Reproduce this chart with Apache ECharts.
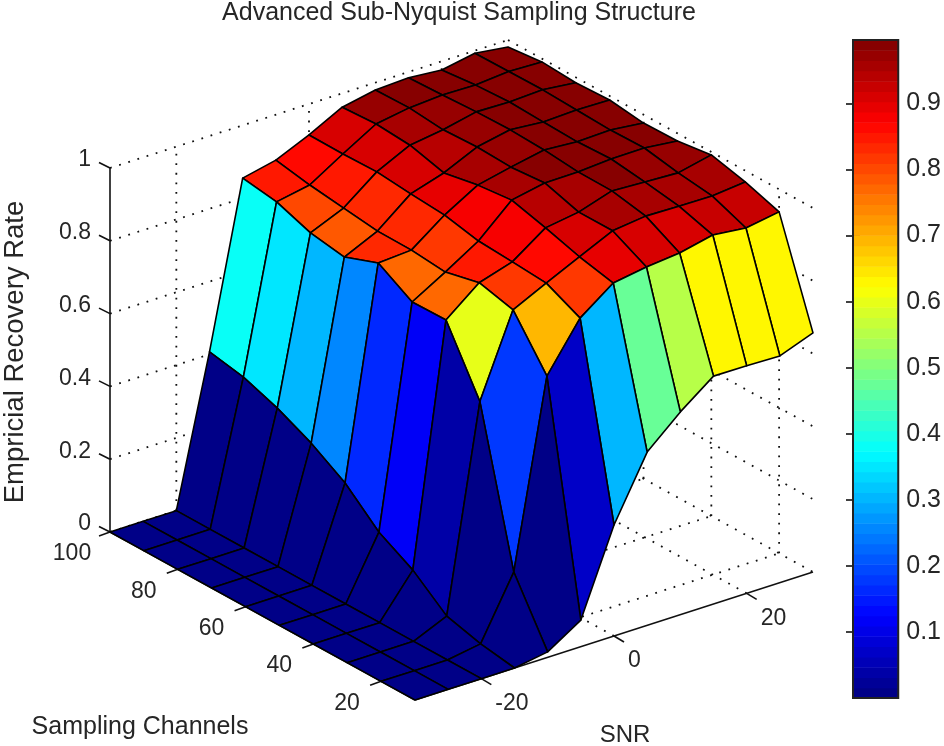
<!DOCTYPE html>
<html>
<head>
<meta charset="utf-8">
<title>Advanced Sub-Nyquist Sampling Structure</title>
<script src="https://cdn.jsdelivr.net/npm/echarts@6/dist/echarts.min.js"></script>
<style>
html, body { margin: 0; padding: 0; background: #fff; }
#chart { width: 944px; height: 746px; }
</style>
</head>
<body>
<div id="chart"></div>
<script>
// values
var snrValues = [-30, -25, -20, -15, -10, -5, 0, 5, 10, 15, 20, 25, 30];
var channelValues = [10, 20, 30, 40, 50, 60, 70, 80, 90, 100];

// one list per SNR, in channelValues order
var rateSnrM30 = [0, 0, 0, 0, 0, 0, 0, 0, 0, 0];
var rateSnrM25 = [0, 0, 0, 0, 0, 0, 0, 0, 0, 0];
var rateSnrM20 = [0, 0, 0, 0, 0, 0, 0, 0, 0, 0];
var rateSnrM15 = [0, 0.015, 0.04, 0.115, 0.168, 0.252, 0.31, 0.355, 0.389, 0.407];
var rateSnrM10 = [0.015, 0.183, 0.6, 0.773, 0.771, 0.827, 0.792, 0.807, 0.841, 0.855];
var rateSnrM5 = [0.073, 0.692, 0.823, 0.846, 0.824, 0.833, 0.834, 0.846, 0.858, 0.875];
var rateSnr0 = [0.305, 0.822, 0.867, 0.874, 0.88, 0.9, 0.907, 0.916, 0.914, 0.915];
var rateSnr5 = [0.476, 0.889, 0.91, 0.938, 0.963, 0.953, 0.935, 0.96, 0.967, 0.962];
var rateSnr10 = [0.557, 0.904, 0.952, 0.952, 0.981, 0.973, 0.977, 0.973, 0.982, 0.98];
var rateSnr15 = [0.626, 0.913, 0.963, 0.981, 0.982, 0.991, 0.995, 0.993, 0.988, 0.984];
var rateSnr20 = [0.625, 0.933, 0.961, 0.976, 0.988, 0.984, 0.987, 0.991, 0.986, 0.976];
var rateSnr25 = [0.623, 0.923, 0.96, 0.972, 0.989, 0.987, 0.991, 0.995, 0.994, 0.993];
var rateSnr30 = [0.657, 0.938, 0.969, 0.992, 0.979, 0.977, 0.989, 0.985, 0.991, 0.981];
var rates = [rateSnrM30, rateSnrM25, rateSnrM20, rateSnrM15, rateSnrM10, rateSnrM5, rateSnr0,
	rateSnr5, rateSnr10, rateSnr15, rateSnr20, rateSnr25, rateSnr30];

var snrTicks = [-20, 0, 20];
var channelTicks = [20, 40, 60, 80, 100];
var rateTicks = [0, 0.2, 0.4, 0.6, 0.8, 1];
var colorbarTicks = [0.1, 0.2, 0.3, 0.4, 0.5, 0.6, 0.7, 0.8, 0.9];

var titleText = 'Advanced Sub-Nyquist Sampling Structure';
var rateName = 'Empricial Recovery Rate';
var channelName = 'Sampling Channels';
var snrName = 'SNR';

var colorMax = 0.996;
var colorLevels = 64;
var textColor = '#262626';
var tickFont = '23px "Liberation Sans"';

// matlab jet map
function jet(i) {
	var t = (i + 0.5) / colorLevels;
	function ch(v) {
		return Math.round(255 * Math.max(0, Math.min(1, v)));
	}
	return 'rgb(' + ch(1.5 - Math.abs(4 * t - 3)) + ',' + ch(1.5 - Math.abs(4 * t - 2)) + ',' + ch(1.5 - Math.abs(4 * t - 1)) + ')';
}
function colorOf(v) {
	return jet(Math.min(colorLevels - 1, Math.floor(v / colorMax * colorLevels)));
}

// fixed view of the 3d box: (snr, channels, rate) -> flat chart units
function project(s, c, r) {
	return [
		415 + (s + 30) * 398 / 60 - (c - 10) * 305 / 90,
		700 - (s + 30) * 128 / 60 - (c - 10) * 168 / 90 - r * 364
	];
}

function segment(api, a, b, style) {
	var p = api.coord(a), q = api.coord(b);
	return { type: 'line', shape: { x1: p[0], y1: p[1], x2: q[0], y2: q[1] }, style: style };
}

// back to front so nearer cells cover farther ones
var cells = [];
for (var si = snrValues.length - 2; si >= 0; si--) {
	for (var ci = channelValues.length - 2; ci >= 0; ci--) {
		cells.push([si, ci]);
	}
}

function renderCell(params, api) {
	var si = api.value(0), ci = api.value(1);
	var corners = [[si, ci], [si + 1, ci], [si + 1, ci + 1], [si, ci + 1]];
	var points = corners.map(function(k) {
		return api.coord(project(snrValues[k[0]], channelValues[k[1]], rates[k[0]][k[1]]));
	});
	return {
		type: 'polygon',
		shape: { points: points },
		style: { fill: colorOf(rates[si][ci]), stroke: '#000', lineWidth: 1.6, lineJoin: 'round' }
	};
}

function renderBox(params, api) {
	var dot = { stroke: '#111', lineWidth: 1.8, lineDash: [1.8, 7.8] };
	var solid = { stroke: '#111', lineWidth: 1.6 };
	var kids = [];
	var s0 = -30, s1 = 30, c0 = 10, c1 = 100;
	rateTicks.forEach(function(r) {
		kids.push(segment(api, project(s0, c1, r), project(s1, c1, r), dot));
		kids.push(segment(api, project(s1, c1, r), project(s1, c0, r), dot));
		var p = project(s0, c1, r);
		kids.push(segment(api, p, [p[0] - 11, p[1] - 5.5], solid));
		kids.push(textAt(api, [p[0] - 19, p[1] - 8], r, 'right'));
	});
	snrTicks.forEach(function(s) {
		kids.push(segment(api, project(s, c1, 0), project(s, c1, 1), dot));
		kids.push(segment(api, project(s, c0, 0), project(s, c1, 0), dot));
		var p = project(s, c0, 0);
		kids.push(segment(api, p, [p[0] + 10, p[1] + 6], solid));
		kids.push(textAt(api, [p[0] + 14, p[1] + 25], s, 'left'));
	});
	channelTicks.forEach(function(c) {
		kids.push(segment(api, project(s1, c, 0), project(s1, c, 1), dot));
		kids.push(segment(api, project(s0, c, 0), project(s1, c, 0), dot));
		var p = project(s0, c, 0);
		kids.push(segment(api, p, [p[0] - 11, p[1] + 4], solid));
		kids.push(textAt(api, [p[0] - 34 - (c == 100 ? 4 : 0), p[1] + 22], c, 'center'));
	});
	kids.push(segment(api, project(s0, c1, 0), project(s0, c1, 1), solid));
	kids.push(segment(api, project(s0, c0, 0), project(s1, c0, 0), solid));
	kids.push(segment(api, project(s0, c0, 0), project(s0, c1, 0), solid));
	return { type: 'group', children: kids };
}

function textAt(api, p, text, align) {
	var q = api.coord(p);
	return {
		type: 'text',
		style: { text: String(text), x: q[0], y: q[1], font: tickFont, fill: textColor, align: align, verticalAlign: 'middle' }
	};
}

function renderLevel(params, api) {
	var i = api.value(0);
	var a = api.coord([0, i / colorLevels * colorMax]);
	var b = api.coord([1, (i + 1) / colorLevels * colorMax]);
	return {
		type: 'rect',
		shape: { x: a[0], y: b[1], width: b[0] - a[0], height: a[1] - b[1] + 0.5 },
		style: { fill: jet(i) }
	};
}

function renderFrame(params, api) {
	var a = api.coord([0, 0]);
	var b = api.coord([1, colorMax]);
	return {
		type: 'rect',
		shape: { x: a[0], y: b[1], width: b[0] - a[0], height: a[1] - b[1] },
		style: { fill: 'none', stroke: '#222', lineWidth: 2 }
	};
}

var levels = [];
for (var i = 0; i < colorLevels; i++) {
	levels.push([i]);
}

var myChart = echarts.init(document.getElementById('chart'));
var option = {
	backgroundColor: '#fff',
	animation: false,
	title: {
		text: titleText,
		left: 454,
		top: 8,
		textAlign: 'center',
		textVerticalAlign: 'middle',
		textStyle: { fontFamily: 'Liberation Sans', fontWeight: 'normal', fontSize: 25, color: textColor }
	},
	graphic: [
		{ type: 'text', rotation: Math.PI / 2, x: 15, y: 352, style: { text: rateName, font: '27.5px "Liberation Sans"', fill: textColor, align: 'center', verticalAlign: 'middle' } },
		{ type: 'text', x: 140, y: 727, style: { text: channelName, font: '25px "Liberation Sans"', fill: textColor, align: 'center', verticalAlign: 'middle' } },
		{ type: 'text', x: 625, y: 735, style: { text: snrName, font: '24px "Liberation Sans"', fill: textColor, align: 'center', verticalAlign: 'middle' } }
	],
	grid: [
		{ left: 0, top: 0, width: 944, height: 746 },
		{ left: 853, top: 40, width: 53, height: 658 }
	],
	xAxis: [
		{ gridIndex: 0, type: 'value', min: 0, max: 944, show: false },
		{ gridIndex: 1, type: 'value', min: 0, max: 1, show: false }
	],
	yAxis: [
		{ gridIndex: 0, type: 'value', min: 0, max: 746, inverse: true, show: false },
		{
			gridIndex: 1, type: 'value', min: 0, max: colorMax, position: 'right', splitLine: { show: false },
			axisLine: { show: false },
			axisTick: { show: true, inside: true, length: 7, customValues: colorbarTicks, lineStyle: { color: '#111', width: 1.6 } },
			axisLabel: { customValues: colorbarTicks, margin: 8, color: textColor, fontFamily: 'Liberation Sans', fontSize: 25, formatter: function(v) { return v.toFixed(1); } }
		},
		{
			gridIndex: 1, type: 'value', min: 0, max: colorMax, position: 'left', splitLine: { show: false },
			axisLine: { show: false },
			axisTick: { show: true, inside: true, length: 7, customValues: colorbarTicks, lineStyle: { color: '#111', width: 1.6 } },
			axisLabel: { show: false }
		}
	],
	series: [
		{ type: 'custom', name: 'box', coordinateSystem: 'cartesian2d', xAxisIndex: 0, yAxisIndex: 0, z: 1, silent: true, clip: false, data: [[0]], renderItem: renderBox },
		{ type: 'custom', name: 'surface', coordinateSystem: 'cartesian2d', xAxisIndex: 0, yAxisIndex: 0, z: 2, silent: true, clip: false, data: cells, renderItem: renderCell },
		{ type: 'custom', name: 'colorbar', coordinateSystem: 'cartesian2d', xAxisIndex: 1, yAxisIndex: 1, z: 1, silent: true, data: levels, renderItem: renderLevel },
		{ type: 'custom', name: 'frame', coordinateSystem: 'cartesian2d', xAxisIndex: 1, yAxisIndex: 1, z: 1, silent: true, clip: false, data: [[0]], renderItem: renderFrame }
	]
};
myChart.setOption(option);
</script>
</body>
</html>
